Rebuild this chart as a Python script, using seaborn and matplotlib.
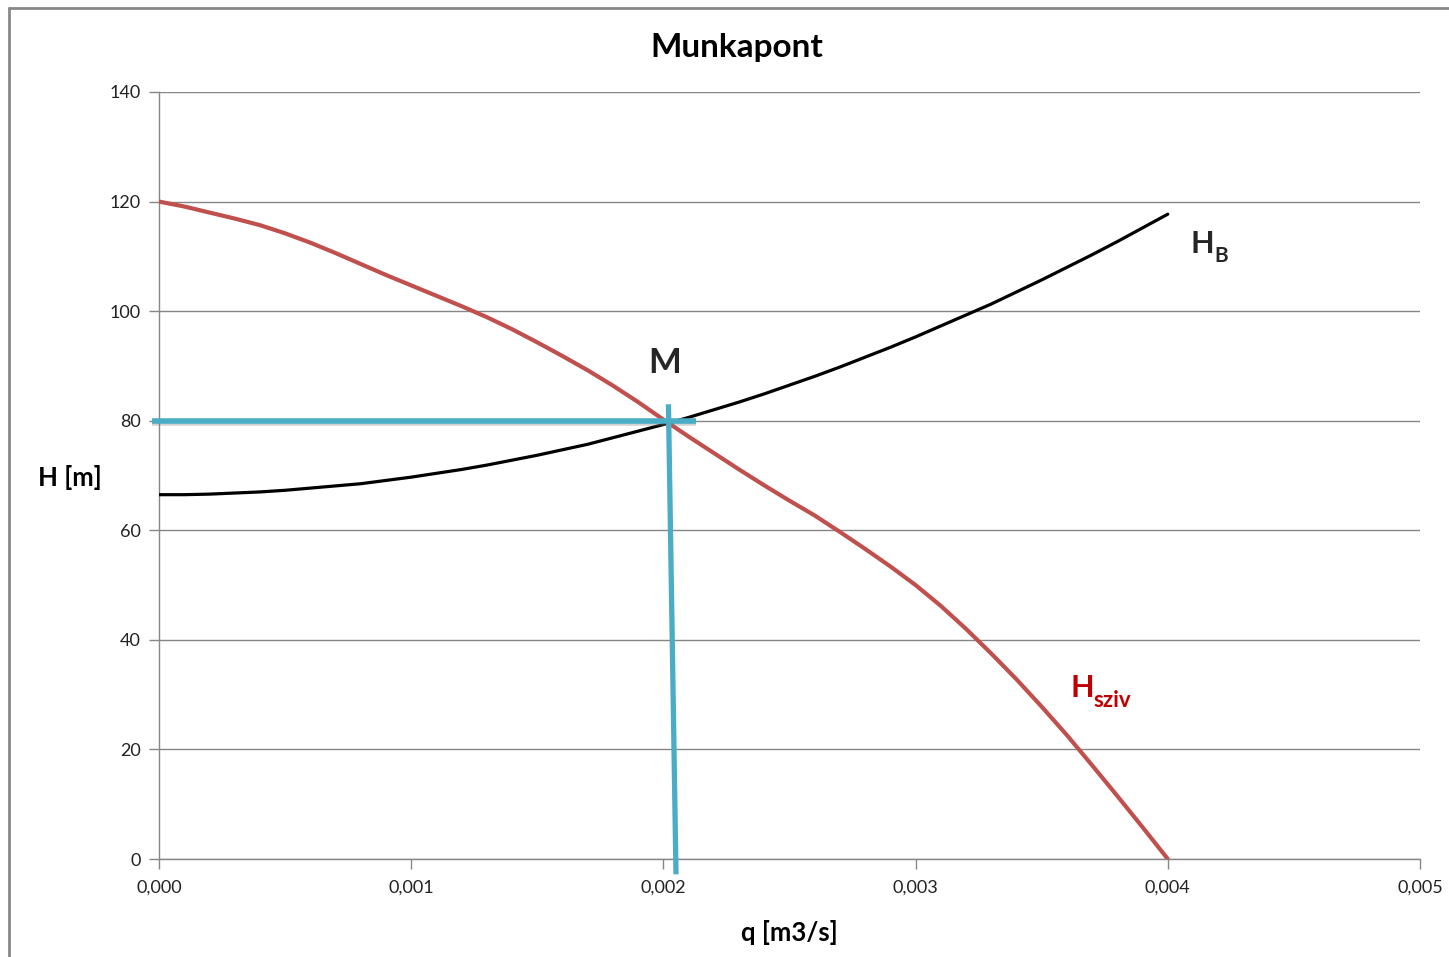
import numpy as np
import pandas as pd
import matplotlib
matplotlib.use("Agg")
import matplotlib.pyplot as plt
import matplotlib.patheffects as pe
from matplotlib.ticker import FuncFormatter, MultipleLocator
import seaborn as sns

# térfogatáram [m3/s]
q = [0.0000, 0.0001, 0.0002, 0.0003, 0.0004, 0.0005, 0.0006, 0.0007, 0.0008, 0.0009,
     0.0010, 0.0011, 0.0012, 0.0013, 0.0014, 0.0015, 0.0016, 0.0017, 0.0018, 0.0019,
     0.0020, 0.0021, 0.0022, 0.0023, 0.0024, 0.0025, 0.0026, 0.0027, 0.0028, 0.0029,
     0.0030, 0.0031, 0.0032, 0.0033, 0.0034, 0.0035, 0.0036, 0.0037, 0.0038, 0.0039,
     0.0040]
# szivattyú jelleggörbe
h_sziv = [120.0, 119.1, 118.0, 116.9, 115.7, 114.2, 112.5, 110.6, 108.6, 106.6,
          104.7, 102.8, 100.9, 98.9, 96.7, 94.3, 91.8, 89.2, 86.4, 83.4,
          80.2, 77.1, 74.1, 71.1, 68.2, 65.4, 62.7, 59.7, 56.6, 53.4,
          50.0, 46.2, 42.0, 37.5, 32.8, 27.8, 22.6, 17.1, 11.5, 5.8,
          0.0]
# csővezeték jelleggörbe
h_b = [66.5, 66.5, 66.6, 66.8, 67.0, 67.3, 67.7, 68.1, 68.5, 69.1,
       69.7, 70.4, 71.1, 71.9, 72.8, 73.7, 74.7, 75.7, 76.9, 78.1,
       79.3, 80.6, 82.0, 83.4, 84.9, 86.5, 88.1, 89.8, 91.6, 93.4,
       95.3, 97.3, 99.3, 101.3, 103.5, 105.7, 108.0, 110.3, 112.7, 115.2,
       117.7]

# munkapont segédvonalai
m_hor_q = [-0.000028, 0.00213]
m_hor_h = [80, 80]
m_ver_q = [0.00202, 0.00205]
m_ver_h = [83, -2.8]

sns.set_theme(style="white")
plt.rcParams['font.family'] = ['Lato', 'DejaVu Sans']

df = pd.DataFrame({'q': q, 'H_sziv': h_sziv, 'H_B': h_b})

fig = plt.figure(figsize=(14.49, 9.57), dpi=100)
ax = fig.add_axes([159/1449, 1 - 859/957, (1420-159)/1449, (859-92)/957])

grey = '#868686'
ax.grid(axis='y', color=grey, lw=1)
ax.set_axisbelow(True)

sns.lineplot(data=df, x='q', y='H_sziv', ax=ax, color='#C0504D', lw=3, zorder=3)
sns.lineplot(data=df, x='q', y='H_B', ax=ax, color='black', lw=2.3, zorder=3)

shadow = [pe.SimpleLineShadow(offset=(0, -2), shadow_color='grey', alpha=0.35), pe.Normal()]
ax.plot(m_hor_q, m_hor_h, color='#4BACC6', lw=4, clip_on=False, zorder=4,
        path_effects=shadow, solid_capstyle='butt')
ax.plot(m_ver_q, m_ver_h, color='#4BACC6', lw=3.8, clip_on=False, zorder=4,
        solid_capstyle='butt')

ax.set_xlim(0, 0.005)
ax.set_ylim(0, 140)
ax.xaxis.set_major_locator(MultipleLocator(0.001))
ax.yaxis.set_major_locator(MultipleLocator(20))
ax.xaxis.set_major_formatter(FuncFormatter(lambda v, p: f"{v:.3f}".replace('.', ',')))
ax.tick_params(axis='both', direction='out', length=7, width=1, color=grey,
               labelsize=13, labelcolor='#222222')
ax.tick_params(axis='x', pad=8)
ax.tick_params(axis='y', pad=6)
ax.xaxis.set_ticks_position('bottom')
ax.yaxis.set_ticks_position('left')
for s in ['top', 'right']:
    ax.spines[s].set_visible(False)
for s in ['left', 'bottom']:
    ax.spines[s].set_color(grey)
    ax.spines[s].set_linewidth(1)

ax.set_xlabel('q [m3/s]', fontsize=18.5, fontweight='bold', color='black')
ax.xaxis.set_label_coords(0.5, -0.0795)
ax.set_ylabel('H [m]', fontsize=18.5, fontweight='bold', color='black', rotation=0,
              ha='center', va='center')
ax.yaxis.set_label_coords(-0.0706, 0.497)

fig.text(737/1449, 1 - 47/957, 'Munkapont', fontsize=24, fontweight='bold',
         ha='center', va='center', color='black')

# görbék feliratai
ax.text(0.002006, 90.5, 'M', fontsize=25, fontweight='bold', ha='center', va='center')
ax.text(0.00409, 112.2, 'H', fontsize=22, fontweight='bold', ha='left', va='center')
ax.text(0.004185, 110.0, 'B', fontsize=15, fontweight='bold', ha='left', va='center')
ax.text(0.003615, 31.3, 'H', fontsize=22, fontweight='bold', ha='left', va='center',
        color='#C00000')
ax.text(0.003705, 29.0, 'sziv', fontsize=16, fontweight='bold', ha='left', va='center',
        color='#C00000')

# külső keret
fig.add_artist(plt.Line2D([9/1449, 9/1449], [0, 1 - 8/957], color='#888888', lw=2))
fig.add_artist(plt.Line2D([9/1449, 1], [1 - 8/957, 1 - 8/957], color='#888888', lw=2))

fig.savefig('out.png', dpi=100)
